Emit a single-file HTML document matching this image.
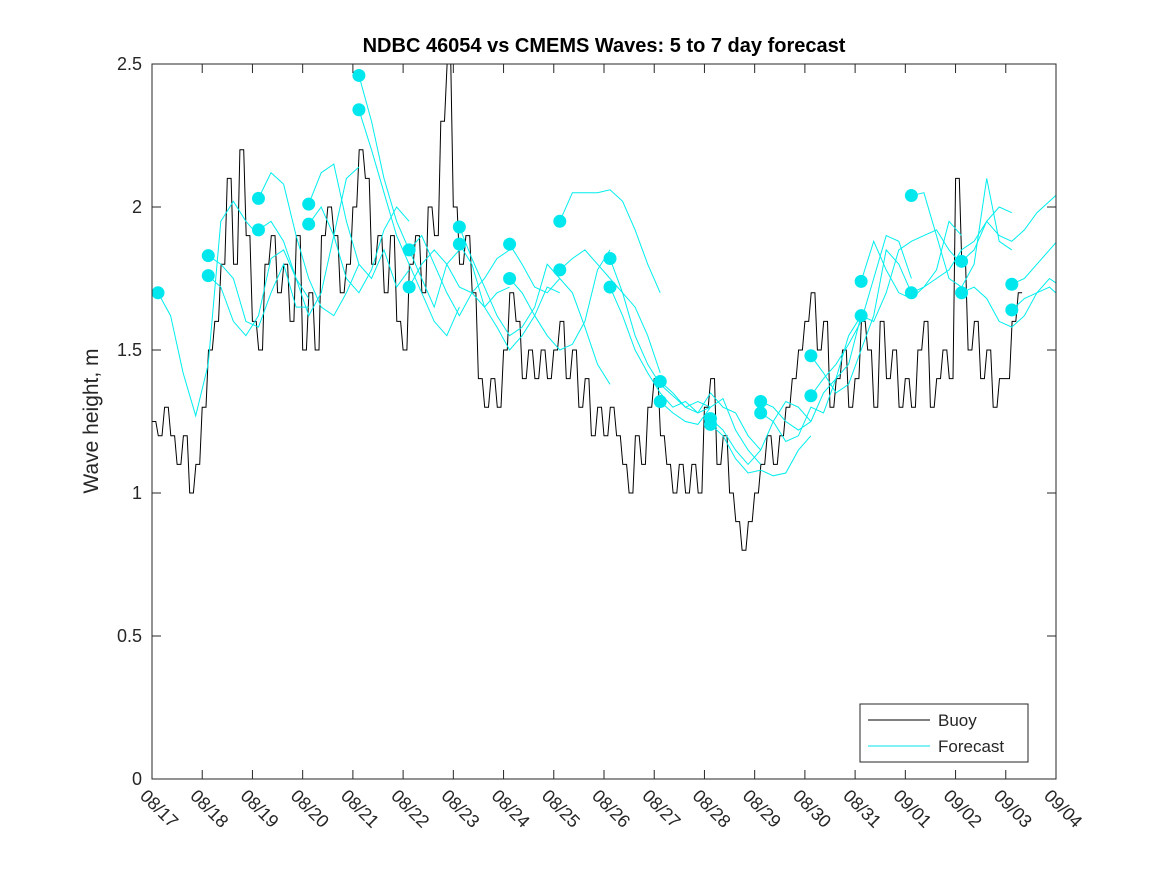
<!DOCTYPE html>
<html><head><meta charset="utf-8"><style>
body{margin:0;background:#fff;}
svg{font-family:"Liberation Sans","DejaVu Sans",sans-serif;}
</style></head><body>
<svg id="chart" width="1167" height="875" viewBox="0 0 1167 875" xmlns="http://www.w3.org/2000/svg">
<rect x="0" y="0" width="1167" height="875" fill="#fff"/>
<text x="604" y="52" text-anchor="middle" font-size="20" font-weight="bold" fill="#000">NDBC 46054 vs CMEMS Waves: 5 to 7 day forecast</text>
<text transform="translate(98,421) rotate(-90)" text-anchor="middle" font-size="21" fill="#262626">Wave height, m</text>
<g id="marks"></g>
<rect x="152" y="64" width="904" height="715" fill="none" stroke="#262626" stroke-width="1"/>
<g id="axes"></g>
<g>
<rect x="860" y="704" width="168" height="58" fill="#fff" stroke="#262626" stroke-width="1"/>
<line x1="868" y1="720" x2="930" y2="720" stroke="#000" stroke-width="1"/>
<text x="938" y="726" font-size="17" fill="#262626">Buoy</text>
<line x1="868" y1="746" x2="930" y2="746" stroke="#00e5ee" stroke-width="1"/>
<text x="938" y="752" font-size="17" fill="#262626">Forecast</text>
</g>
</svg>
<script>
const xTickLabels=["08/17","08/18","08/19","08/20","08/21","08/22","08/23","08/24","08/25","08/26","08/27","08/28","08/29","08/30","08/31","09/01","09/02","09/03","09/04"];
const yTicks=[0,0.5,1,1.5,2,2.5];
const yTickLabels=["0","0.5","1","1.5","2","2.5"];
const buoyStep=0.125;
const buoy=[
1.25,1.2,1.3,1.2,1.1,1.2,1.0,1.1,
1.3,1.5,1.6,1.8,2.1,1.8,2.2,1.9,
1.6,1.5,1.8,1.9,1.7,1.8,1.6,1.9,
1.5,1.7,1.5,1.9,2.0,1.9,1.7,1.8,
2.0,2.2,2.1,1.8,1.9,1.7,1.9,1.6,
1.5,1.8,1.9,1.7,2.0,1.9,2.3,2.5,
2.0,1.8,1.9,1.7,1.4,1.3,1.4,1.3,
1.5,1.7,1.6,1.4,1.5,1.4,1.5,1.4,
1.5,1.6,1.4,1.5,1.3,1.4,1.2,1.3,
1.2,1.3,1.2,1.1,1.0,1.2,1.1,1.3,
1.4,1.2,1.1,1.0,1.1,1.0,1.1,1.0,
1.3,1.4,1.1,1.2,1.0,0.9,0.8,0.9,
1.0,1.1,1.2,1.1,1.2,1.3,1.4,1.5,
1.6,1.7,1.5,1.6,1.3,1.4,1.5,1.3,
1.4,1.6,1.5,1.3,1.6,1.4,1.5,1.3,
1.4,1.3,1.5,1.6,1.3,1.4,1.5,1.4,
2.1,1.8,1.5,1.6,1.4,1.5,1.3,1.4,
1.4,1.6,1.7];
const fcStarts=[0.12,1.12,1.12,2.12,2.12,3.12,3.12,4.12,4.12,5.12,5.12,6.12,6.12,7.12,7.12,8.12,8.12,9.12,9.12,10.12,10.12,11.12,11.12,12.12,12.12,13.12,13.12,14.12,14.12,15.12,15.12,16.12,16.12,17.12,17.12];
const fcStep=0.25;
const fcValues=[
[1.70,1.62,1.42,1.27,1.45,1.95,2.02,1.95,1.90],
[1.83,1.80,1.75,1.60,1.58,1.70,1.80,1.65,1.65],
[1.76,1.72,1.60,1.55,1.62,1.82,1.85,1.75,1.68],
[2.03,2.12,2.08,1.90,1.75,1.65,1.62,1.70,1.80],
[1.92,1.95,1.88,1.75,1.62,1.70,1.90,2.10,2.14],
[2.01,2.12,2.15,1.95,1.80,1.75,1.85,1.72,1.78],
[1.94,2.00,1.90,1.75,1.70,1.78,1.92,2.00,1.95],
[2.46,2.30,2.10,1.95,1.85,1.75,1.65,1.80,1.85],
[2.34,2.20,2.05,1.90,1.80,1.70,1.60,1.55,1.65],
[1.85,1.90,1.80,1.70,1.62,1.70,1.75,1.82,1.85],
[1.72,1.80,1.85,1.80,1.72,1.70,1.65,1.70,1.72],
[1.93,1.82,1.72,1.62,1.55,1.58,1.65,1.80,1.75],
[1.87,1.80,1.65,1.58,1.50,1.55,1.62,1.72,1.70],
[1.87,1.80,1.72,1.70,1.75,1.70,1.58,1.45,1.38],
[1.75,1.70,1.62,1.55,1.50,1.52,1.60,1.78,1.85],
[1.95,2.05,2.05,2.05,2.06,2.02,1.92,1.80,1.70],
[1.78,1.82,1.85,1.80,1.75,1.70,1.65,1.55,1.42],
[1.82,1.70,1.55,1.45,1.38,1.34,1.30,1.32,1.30],
[1.72,1.62,1.50,1.42,1.35,1.30,1.32,1.28,1.30],
[1.39,1.35,1.30,1.28,1.35,1.30,1.28,1.20,1.15],
[1.32,1.28,1.25,1.24,1.30,1.33,1.22,1.15,1.10],
[1.26,1.22,1.15,1.10,1.15,1.25,1.32,1.30,1.25],
[1.24,1.20,1.12,1.07,1.08,1.06,1.07,1.15,1.20],
[1.32,1.30,1.25,1.22,1.25,1.35,1.40,1.45,1.62],
[1.28,1.25,1.18,1.20,1.30,1.28,1.40,1.55,1.62],
[1.48,1.42,1.35,1.38,1.50,1.62,1.85,1.80,1.70],
[1.34,1.40,1.45,1.52,1.60,1.75,1.90,1.88,1.75],
[1.74,1.88,1.78,1.70,1.68,1.72,1.78,1.95,1.90],
[1.62,1.60,1.70,1.85,1.88,1.90,1.92,1.85,1.80],
[2.04,2.05,1.90,1.75,1.72,1.80,2.10,1.88,1.85],
[1.70,1.72,1.75,1.78,1.85,1.88,1.95,2.00,1.98],
[1.81,1.85,1.95,1.90,1.88,1.92,1.98,2.02,2.06],
[1.70,1.72,1.68,1.60,1.58,1.62,1.70,1.75,1.72],
[1.73,1.75,1.80,1.85,1.90,1.95,1.92,1.88,1.92],
[1.64,1.68,1.70,1.72,1.68,1.62,1.58,1.55,1.52]
];
const NS="http://www.w3.org/2000/svg";
const X0=152,X1=1056,Y0=779,Y1=64,DMAX=18,VMAX=2.5;
function xs(d){return X0+(d/DMAX)*(X1-X0);}
function ys(v){return Y0-(v/VMAX)*(Y0-Y1);}
function mk(t,a,p){const e=document.createElementNS(NS,t);for(const k in a)e.setAttribute(k,a[k]);p.appendChild(e);return e;}
const marks=document.getElementById('marks'),axes=document.getElementById('axes');
const clip=mk('clipPath',{id:'pc'},marks);mk('rect',{x:X0,y:Y1,width:X1-X0,height:Y0-Y1},clip);
const g=mk('g',{'clip-path':'url(#pc)'},marks);
// buoy as stepped line
let bp=[];
buoy.forEach((v,i)=>{
  const xa=xs(i*buoyStep), xb=xs((i+0.6)*buoyStep), xc=xs((i+1)*buoyStep);
  bp.push(xa.toFixed(1)+','+ys(v).toFixed(1));
  bp.push(xb.toFixed(1)+','+ys(v).toFixed(1));
  if(i<buoy.length-1) bp.push(xc.toFixed(1)+','+ys(buoy[i+1]).toFixed(1));
});
const bl=mk('polyline',{points:bp.join(' '),fill:'none',stroke:'#000','stroke-width':1},g);


// forecasts
fcValues.forEach((vals,i)=>{
  const s=fcStarts[i];
  const pl=mk('polyline',{points:vals.map((v,j)=>xs(s+j*fcStep).toFixed(1)+','+ys(v).toFixed(1)).join(' '),fill:'none',stroke:'#00eeee','stroke-width':1},g);
  
  
});
fcValues.forEach((vals,i)=>{
  const c=mk('circle',{cx:xs(fcStarts[i]),cy:ys(vals[0]),r:6.5,fill:'#00e8ee'},g);
  
  
});
xTickLabels.forEach((lab,i)=>{
  const x=xs(i);
  mk('line',{x1:x,y1:Y0,x2:x,y2:Y0-9,stroke:'#262626'},axes);
  mk('line',{x1:x,y1:Y1,x2:x,y2:Y1+9,stroke:'#262626'},axes);
  const t=mk('text',{transform:`translate(${x-13},${Y0+18}) rotate(45)`,'font-size':18,fill:'#262626'},axes);
  t.textContent=lab;
  
  
});
yTicks.forEach((v,i)=>{
  const y=ys(v);
  mk('line',{x1:X0,y1:y,x2:X0+9,y2:y,stroke:'#262626'},axes);
  mk('line',{x1:X1,y1:y,x2:X1-9,y2:y,stroke:'#262626'},axes);
  const t=mk('text',{x:X0-10,y:y+6,'text-anchor':'end','font-size':18,fill:'#262626'},axes);
  t.textContent=yTickLabels[i];
  
  
});
</script>
</body></html>
